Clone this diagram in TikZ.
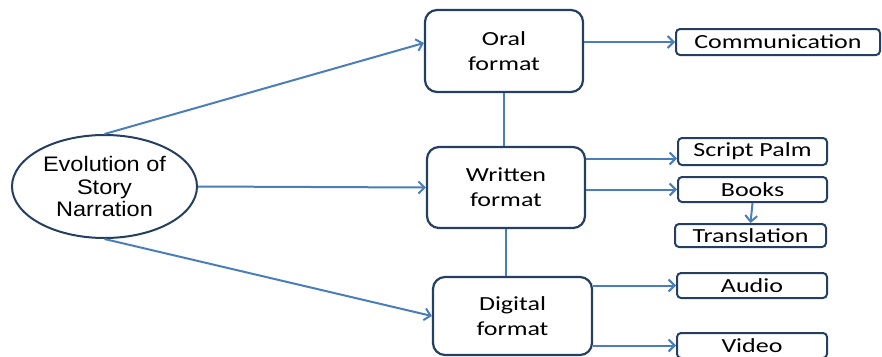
\documentclass[tikz,border=0pt]{standalone}
\usepackage{fontspec}
\setmainfont{Carlito}[FakeStretch=1.3]
\newfontfamily\evofont{Liberation Sans}[FakeStretch=1.12]
\usetikzlibrary{shapes.geometric, arrows.meta}
\definecolor{linkblue}{HTML}{4A7EBB}
\definecolor{boxnavy}{HTML}{243F60}

\begin{document}
\begin{tikzpicture}[x=1pt, y=-1pt, >={Straight Barb[length=6pt, width=12pt]},
    fmt/.style={draw=boxnavy, line width=2.2pt, rounded corners=12pt, align=center,
        inner sep=0pt, font=\fontsize{20}{25}\selectfont},
    leaf/.style={draw=boxnavy, line width=2pt, rounded corners=4pt, inner sep=0pt,
        font=\fontsize{20}{24}\selectfont},
    link/.style={draw=linkblue, line width=2pt}]
    \useasboundingbox (0,0) rectangle (882,356);
    \node [ellipse, draw=boxnavy, line width=2pt, inner sep=0pt, align=center,
        minimum width=185pt, minimum height=103pt,
        font=\evofont\fontsize{21}{22.5}\selectfont] (evo) at (104.5,186.5)
        {Evolution of\\Story\\Narration};
    % middle column
    \node [fmt, minimum width=158pt, minimum height=82pt] (oral) at (504,51) {Oral\\format};
    \node [fmt, minimum width=158pt, minimum height=81pt] (written) at (506,187.5) {Written\\format};
    \node [fmt, minimum width=159pt, minimum height=78pt] (digital) at (512.5,316) {Digital\\format};
    % right column
    \node [leaf, minimum width=204pt, minimum height=26pt] (comm) at (778,42) {Communication};
    \node [leaf, minimum width=149pt, minimum height=27pt] (script) at (752.5,151.5) {Script Palm};
    \node [leaf, minimum width=149pt, minimum height=25pt] (books) at (752.5,189.5) {Books};
    \node [leaf, minimum width=151pt, minimum height=23pt] (trans) at (750.5,235.5) {Translation};
    \node [leaf, minimum width=150pt, minimum height=25pt] (audio) at (752,285.5) {Audio};
    \node [leaf, minimum width=150pt, minimum height=25pt] (video) at (752,345.5) {Video};

    \draw [link, ->] (evo.north) -- ([yshift=8pt]oral.west);
    \draw [link, ->] (evo.east) -- (written.west);
    \draw [link, ->] (evo.south) -- (digital.west);
    \draw [link] (oral.south) -- (oral.south |- written.north);
    \draw [link] (written.south) -- (written.south |- digital.north);
    \draw [link, ->] (comm.west -| oral.east) -- (comm.west);
    \draw [link, ->] ([yshift=-7pt]script.west -| written.east) -- ([yshift=-7pt]script.west);
    \draw [link, ->] (books.west -| written.east) -- (books.west);
    \draw [link, ->] (books.south) -- (trans.north);
    \draw [link, ->] (audio.west -| digital.east) -- (audio.west);
    \draw [link, ->] (video.west -| digital.east) -- (video.west);
\end{tikzpicture}
\end{document}
